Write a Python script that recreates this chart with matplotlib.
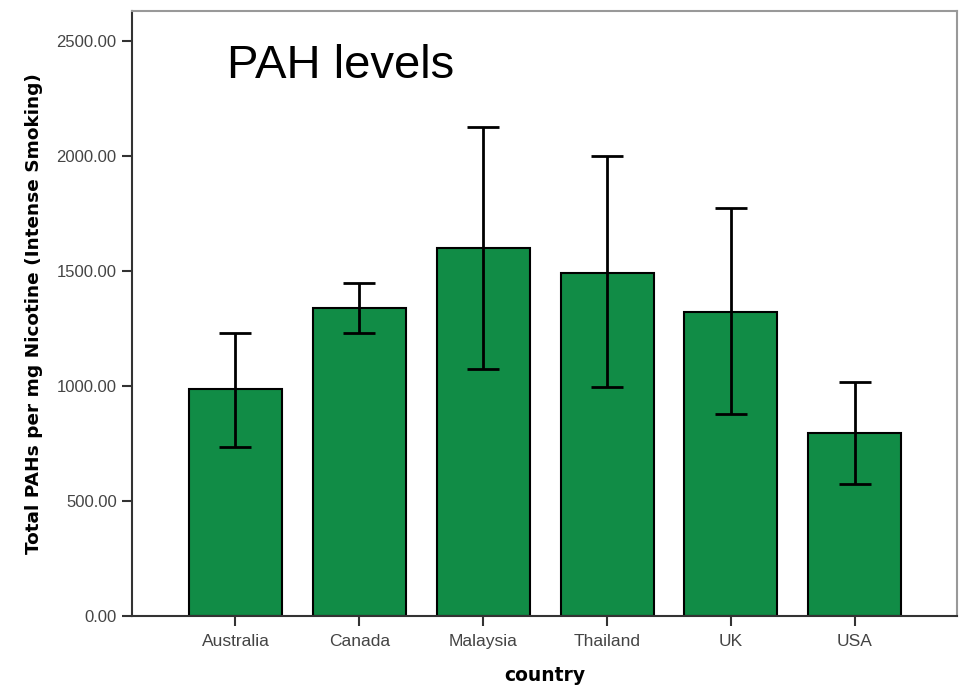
import matplotlib
matplotlib.use("Agg")
import matplotlib.pyplot as plt
import numpy as np

countries = ["Australia", "Canada", "Malaysia", "Thailand", "UK", "USA"]
means = [987, 1339, 1600, 1494, 1323, 794]
err_low = [733, 1233, 1074, 994, 878, 574]
err_high = [1233, 1449, 2129, 2000, 1777, 1016]
yticks = [0, 500, 1000, 1500, 2000, 2500]

plt.rcParams['font.family'] = ['Liberation Sans', 'DejaVu Sans']

fig = plt.figure(figsize=(9.62, 6.88), dpi=100)
ax = fig.add_axes([0.1372, 0.1047, 0.8576, 0.8793])

x = np.arange(len(countries))
means_a = np.array(means)
yerr = np.vstack([means_a - np.array(err_low), np.array(err_high) - means_a])
ax.bar(x, means, width=0.75, color="#118C46", edgecolor="black", linewidth=1.5, zorder=2)
ax.errorbar(x, means, yerr=yerr, fmt="none", ecolor="black", elinewidth=2,
            capsize=11.5, capthick=2, zorder=3)

ax.set_xlim(-0.835, 5.825)
ax.set_ylim(0, 2632)
ax.set_yticks(yticks)
ax.set_yticklabels([f"{v:.2f}" for v in yticks])
ax.set_xticks(x)
ax.set_xticklabels(countries)
ax.tick_params(axis="both", direction="out", length=7, width=1.5, colors="#333333",
               labelcolor="#444444")
ax.tick_params(axis="x", pad=6, labelsize=12.5)
ax.tick_params(axis="y", pad=4, labelsize=12)

for s in ["left", "bottom"]:
    ax.spines[s].set_color("#333333")
    ax.spines[s].set_linewidth(1.5)
for s in ["top", "right"]:
    ax.spines[s].set_color("#999999")
    ax.spines[s].set_linewidth(1.5)

ax.set_ylabel("Total PAHs per mg Nicotine (Intense Smoking)", fontsize=13.3,
              fontweight="bold", labelpad=10, color="black", family="DejaVu Sans")
ax.set_xlabel("country", fontsize=13.5, fontweight="bold", labelpad=12, color="black",
              family="DejaVu Sans")

fig.text(227 / 962, 1 - 78 / 688, "PAH levels", fontsize=34, color="black",
         ha="left", va="baseline")

fig.savefig("out.png", dpi=100)
